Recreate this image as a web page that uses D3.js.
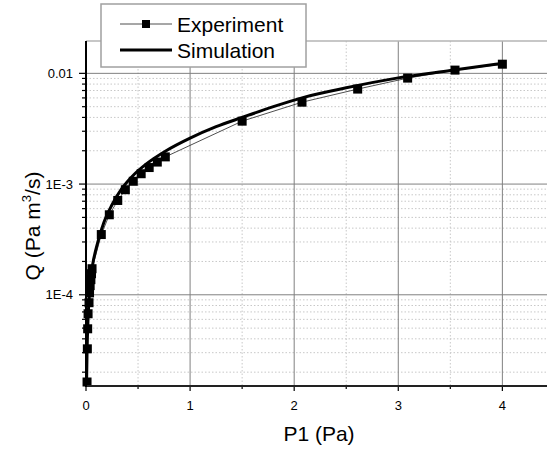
<!DOCTYPE html>
<meta charset="utf-8">
<style>
body { margin: 0; background: #fff; }
svg { font-family: "Liberation Sans", Arial, sans-serif; }
.minor { stroke: #c8c8c8; stroke-dasharray: 1.5,2; }
.major { stroke: #808080; }
</style>
<body>
<svg width="547" height="450"></svg>
<script src="https://d3js.org/d3.v7.min.js"></script>
<script>

// experiment: P1 (Pa) and Q (Pa m3/s)
var expP = [0.010, 0.013, 0.016, 0.020, 0.029, 0.034, 0.040, 0.047, 0.053, 0.058,
            0.147, 0.224, 0.305, 0.378, 0.454, 0.530, 0.607, 0.685, 0.762,
            1.50, 2.075, 2.61, 3.09, 3.545, 4.0];
var expQ = [1.63e-5, 3.25e-5, 4.93e-5, 6.74e-5, 8.48e-5, 1.04e-4, 1.21e-4, 1.37e-4, 1.55e-4, 1.72e-4,
            3.50e-4, 5.28e-4, 7.11e-4, 8.89e-4, 1.06e-3, 1.24e-3, 1.41e-3, 1.58e-3, 1.76e-3,
            3.70e-3, 5.49e-3, 7.21e-3, 9.06e-3, 1.07e-2, 1.21e-2];

// simulation curve
var simP = [0.005, 0.01, 0.02, 0.03, 0.045, 0.065, 0.09, 0.12, 0.17, 0.25, 0.34, 0.45,
            0.58, 0.77, 1.0, 1.25, 1.5, 1.8, 2.1, 2.5, 3.0, 3.5, 4.0];
var simQ = [1.5e-5, 3.0e-5, 6.2e-5, 9.2e-5, 1.35e-4, 1.9e-4, 2.45e-4, 3.15e-4, 4.45e-4, 6.5e-4, 9.0e-4, 1.19e-3,
            1.52e-3, 2.0e-3, 2.6e-3, 3.3e-3, 4.0e-3, 5.0e-3, 6.1e-3, 7.4e-3, 9.1e-3, 1.06e-2, 1.23e-2];

var xMajor = [0, 1, 2, 3, 4];
var xMinor = [0.5, 1.5, 2.5, 3.5];
var yMajor = [1e-4, 1e-3, 1e-2];
var yLabels = ["1E-4", "1E-3", "0.01"];
var legendNames = ["Experiment", "Simulation"];

var svg = d3.select("svg");
var mL = 86, mR = 544, mT = 41, mB = 386;

var x = d3.scaleLinear().domain([0, 4.4]).range([mL, mR]);
var y = d3.scaleLog().domain([1.5e-5, 0.0196]).range([mB, mT]);

// minor y values 2..9 per decade
var yMinor = [];
[1e-5, 1e-4, 1e-3, 1e-2].forEach(function(d) {
  for (var k = 2; k <= 9; k++) {
    var v = d * k;
    if (v > y.domain()[0] && v < y.domain()[1]) yMinor.push(v);
  }
});

// grid
svg.append("g").selectAll("line").data(yMinor).enter().append("line")
    .attr("class", "minor")
    .attr("x1", mL).attr("x2", 547)
    .attr("y1", d => y(d)).attr("y2", d => y(d));
svg.append("g").selectAll("line").data(xMinor).enter().append("line")
    .attr("class", "minor")
    .attr("x1", d => x(d)).attr("x2", d => x(d))
    .attr("y1", mT).attr("y2", mB);
svg.append("g").selectAll("line").data(yMajor).enter().append("line")
    .attr("class", "major")
    .attr("x1", mL).attr("x2", 547)
    .attr("y1", d => y(d)).attr("y2", d => y(d));
svg.append("g").selectAll("line").data(xMajor.slice(1)).enter().append("line")
    .attr("class", "major")
    .attr("x1", d => x(d)).attr("x2", d => x(d))
    .attr("y1", mT).attr("y2", mB);

// top frame line
svg.append("line")
    .attr("x1", mL).attr("x2", 547).attr("y1", mT).attr("y2", mT)
    .attr("stroke", "#b4b4b4").attr("stroke-width", 1.5);

// lines
svg.append("clipPath").attr("id", "clip").append("rect")
    .attr("x", mL).attr("y", mT).attr("width", 547 - mL).attr("height", mB - mT);

var line = d3.line().x(d => x(d[0])).y(d => y(d[1]));
var line2 = d3.line().curve(d3.curveMonotoneX).x(d => x(d[0])).y(d => y(d[1]));

var expData = expP.map((p, i) => [p, expQ[i]]);
var simData = simP.map((p, i) => [p, simQ[i]]);

svg.append("path")
    .datum(expData)
    .attr("d", line)
    .attr("fill", "none")
    .attr("stroke", "#222")
    .attr("stroke-width", 0.8);

svg.append("path")
    .datum(simData)
    .attr("d", line2)
    .attr("clip-path", "url(#clip)")
    .attr("fill", "none")
    .attr("stroke", "#000")
    .attr("stroke-width", 3);

svg.append("g").selectAll("rect").data(expData).enter().append("rect")
    .attr("x", d => x(d[0]) - 4.5)
    .attr("y", d => y(d[1]) - 4.5)
    .attr("width", 9).attr("height", 9)
    .attr("fill", "#000");

// axes
var xAxis = svg.append("g").attr("transform", "translate(0," + mB + ")");
xAxis.selectAll("line.mt").data(xMajor).enter().append("line")
    .attr("x1", d => x(d)).attr("x2", d => x(d)).attr("y1", 0).attr("y2", 5)
    .attr("stroke", "#000").attr("stroke-width", 1.2);
xAxis.selectAll("line.nt").data(xMinor).enter().append("line")
    .attr("x1", d => x(d)).attr("x2", d => x(d)).attr("y1", 0).attr("y2", 3)
    .attr("stroke", "#000").attr("stroke-width", 1.2);
xAxis.selectAll("text").data(xMajor).enter().append("text")
    .attr("x", d => x(d)).attr("y", 24)
    .attr("text-anchor", "middle")
    .attr("font-size", 13)
    .attr("fill", "#000")
    .text(d => d);
xAxis.append("line").attr("x1", mL - 1).attr("x2", 547).attr("y1", 0).attr("y2", 0)
    .attr("stroke", "#222").attr("stroke-width", 2);

var yAxis = svg.append("g");
yAxis.selectAll("line.mt").data(yMajor).enter().append("line")
    .attr("x1", mL - 7).attr("x2", mL).attr("y1", d => y(d)).attr("y2", d => y(d))
    .attr("stroke", "#000").attr("stroke-width", 1.2);
yAxis.selectAll("line.nt").data(yMinor).enter().append("line")
    .attr("x1", mL - 4).attr("x2", mL).attr("y1", d => y(d)).attr("y2", d => y(d))
    .attr("stroke", "#000").attr("stroke-width", 1.2);
yAxis.selectAll("text").data(yMajor).enter().append("text")
    .attr("x", mL - 13).attr("y", d => y(d) + 4.5)
    .attr("text-anchor", "end")
    .attr("font-size", 13)
    .attr("fill", "#000")
    .text((d, i) => yLabels[i]);
yAxis.append("line").attr("x1", mL).attr("x2", mL).attr("y1", mT).attr("y2", mB + 1)
    .attr("stroke", "#000").attr("stroke-width", 2);

// axis titles
svg.append("text")
    .attr("x", 319).attr("y", 441)
    .attr("text-anchor", "middle")
    .attr("font-size", 21)
    .text("P1 (Pa)");

var yt = svg.append("text")
    .attr("transform", "translate(40,226) rotate(-90)")
    .attr("text-anchor", "middle")
    .attr("font-size", 21);
yt.append("tspan").text("Q (Pa m");
yt.append("tspan").attr("font-size", 13).attr("dy", -9).text("3");
yt.append("tspan").attr("dy", 9).text("/s)");

// legend
var lg = svg.append("g");
lg.append("rect")
    .attr("x", 101).attr("y", 4).attr("width", 205).attr("height", 63)
    .attr("fill", "#fff").attr("stroke", "#a0a0a0").attr("stroke-width", 1.5);
lg.append("line").attr("x1", 120).attr("x2", 172).attr("y1", 24).attr("y2", 24)
    .attr("stroke", "#222").attr("stroke-width", 0.8);
lg.append("rect").attr("x", 142).attr("y", 20).attr("width", 8).attr("height", 8).attr("fill", "#000");
lg.append("line").attr("x1", 120).attr("x2", 172).attr("y1", 50).attr("y2", 50)
    .attr("stroke", "#000").attr("stroke-width", 3);
lg.selectAll("text").data(legendNames).enter().append("text")
    .attr("x", 177).attr("y", (d, i) => 31.5 + i * 26)
    .attr("font-size", 21)
    .text(d => d);

</script>
</body>
